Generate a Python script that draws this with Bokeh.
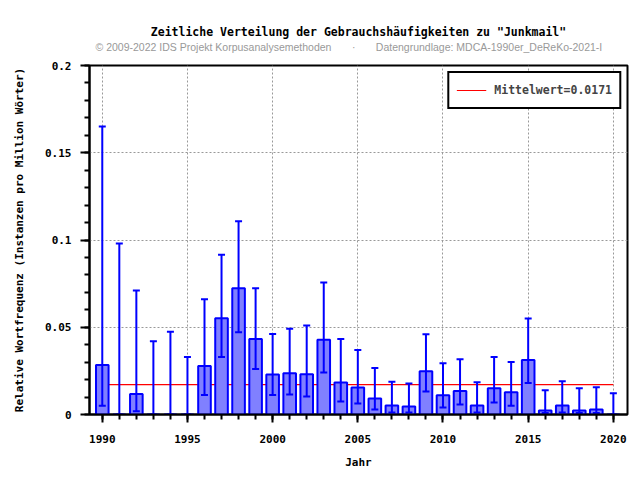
from bokeh.plotting import figure
from bokeh.models import FixedTicker, Title, Range1d
from bokeh.embed import file_html
from bokeh.resources import INLINE

years = list(range(1990, 2021))
freq = [0.0284, 0.0, 0.0118, 0.0, 0.0, 0.0, 0.0278, 0.0552, 0.0724, 0.0432,
        0.0229, 0.0237, 0.0231, 0.0429, 0.0183, 0.0155, 0.0092, 0.0052, 0.0046, 0.0248,
        0.0110, 0.0134, 0.0052, 0.0150, 0.0127, 0.0313, 0.0023, 0.0052, 0.0023, 0.0029,
        0.0]
upper = [0.165, 0.098, 0.071, 0.042, 0.0474, 0.033, 0.066, 0.0916, 0.1107, 0.0724,
         0.0461, 0.0492, 0.051, 0.0756, 0.0433, 0.037, 0.0267, 0.0187, 0.0177, 0.0460,
         0.0294, 0.0316, 0.0185, 0.033, 0.0301, 0.055, 0.0139, 0.0191, 0.015, 0.0156,
         0.0122]
lower = [0.005, 0.0, 0.0019, 0.0, 0.0, 0.0, 0.0112, 0.033, 0.0472, 0.0261,
         0.0112, 0.0114, 0.0103, 0.024, 0.0074, 0.0063, 0.0029, 0.0011, 0.0011, 0.0132,
         0.004, 0.0058, 0.0012, 0.0069, 0.005, 0.018, 0.0008, 0.0012, 0.0008, 0.0008,
         0.0]
mean_value = 0.0171
mean_label = "Mittelwert=0.0171"
x_ticks = [1990, 1995, 2000, 2005, 2010, 2015, 2020]
y_ticks = [0, 0.05, 0.1, 0.15, 0.2]
y_tick_labels = ["0", "0.05", "0.1", "0.15", "0.2"]
y_minor = [0.01 * i for i in range(21)]

MONO = "DejaVu Sans Mono"

p = figure(width=636, height=476, output_backend="svg", toolbar_location=None,
           title=None,
           x_range=Range1d(1989.25, 2020.83), y_range=Range1d(0, 0.2),
           min_border_left=89, min_border_right=9, min_border_top=65,
           min_border_bottom=62)
p.background_fill_color = "white"
p.border_fill_color = "white"
p.outline_line_color = "black"
p.outline_line_width = 2

# spacing between frame and the source line
spacer = Title(text="\u00a0", text_font_size="1px", standoff=10)
p.add_layout(spacer, "above")
sub = Title(text="\u00a9 2009-2022 IDS Projekt Korpusanalysemethoden" + "\u00a0" * 7 + "\u00b7" + "\u00a0" * 7 + "Datengrundlage: MDCA-1990er_DeReKo-2021-I",
            align="left", offset=6, text_font="Liberation Sans", text_font_size="10.5px",
            text_font_style="normal", text_color="#999999", standoff=0)
p.add_layout(sub, "above")
ttl = Title(text='Zeitliche Verteilung der Gebrauchsh\u00e4ufigkeiten zu "Junkmail"',
            align="center", text_font=MONO, text_font_size="11.5px",
            text_font_style="bold", text_color="black", standoff=0)
p.add_layout(ttl, "above")

# mean line (behind bars)
p.line(x=[years[0], years[-1]], y=[mean_value, mean_value], line_color="#ff0000",
       line_width=1.1, legend_label=mean_label)

p.vbar(x=years, top=freq, bottom=0, width=0.74, fill_color="#8080ff",
       line_color="#0000ff", line_width=2)
p.segment(x0=years, y0=lower, x1=years, y1=upper, line_color="#0000ff", line_width=2)
p.scatter(x=years, y=upper, marker="dash", size=7, line_color="#0000ff", line_width=2)
p.scatter(x=years, y=lower, marker="dash", size=7, line_color="#0000ff", line_width=2)

# axes
p.xaxis.ticker = FixedTicker(ticks=x_ticks, minor_ticks=years)
p.yaxis.ticker = FixedTicker(ticks=y_ticks, minor_ticks=y_minor)
p.yaxis.major_label_overrides = {t: l for t, l in zip(y_ticks, y_tick_labels)}
for ax in (p.xaxis, p.yaxis):
    ax.axis_line_color = "black"
    ax.axis_line_width = 2
    ax.major_tick_line_color = "black"
    ax.major_tick_line_width = 2
    ax.minor_tick_line_color = "black"
    ax.minor_tick_line_width = 2
    ax.major_tick_in = 0
    ax.minor_tick_in = 0
    ax.major_label_text_font = MONO
    ax.major_label_text_font_size = "11px"
    ax.major_label_text_font_style = "bold"
    ax.major_label_text_color = "black"
    ax.axis_label_text_font = MONO
    ax.axis_label_text_font_size = "11px"
    ax.axis_label_text_font_style = "bold"
    ax.axis_label_text_color = "black"
p.xaxis.major_tick_out = 8
p.xaxis.minor_tick_out = 5
p.yaxis.major_tick_out = 9
p.yaxis.minor_tick_out = 5
p.xaxis.major_label_standoff = 12
p.yaxis.major_label_standoff = 9
p.xaxis.axis_label = "Jahr"
p.yaxis.axis_label = "Relative Wortfrequenz (Instanzen pro Million W\u00f6rter)"
p.xaxis.axis_label_standoff = 10
p.yaxis.axis_label_standoff = 16

p.xgrid.ticker = FixedTicker(ticks=x_ticks)
p.ygrid.ticker = FixedTicker(ticks=y_ticks)
for g in (p.xgrid, p.ygrid):
    g.grid_line_color = "#999999"
    g.grid_line_dash = "2 2"
    g.grid_line_width = 1

lg = p.legend[0]
lg.location = "top_right"
lg.margin = 6
lg.padding = 7
lg.border_line_color = "black"
lg.border_line_width = 2
lg.border_line_alpha = 1
lg.background_fill_color = "white"
lg.background_fill_alpha = 1
lg.glyph_width = 30
lg.label_standoff = 8
lg.label_text_font = MONO
lg.label_text_font_size = "11.5px"
lg.label_text_font_style = "bold"
lg.label_height = 20

html = file_html(p, INLINE)
open("out.html", "w").write(html)
